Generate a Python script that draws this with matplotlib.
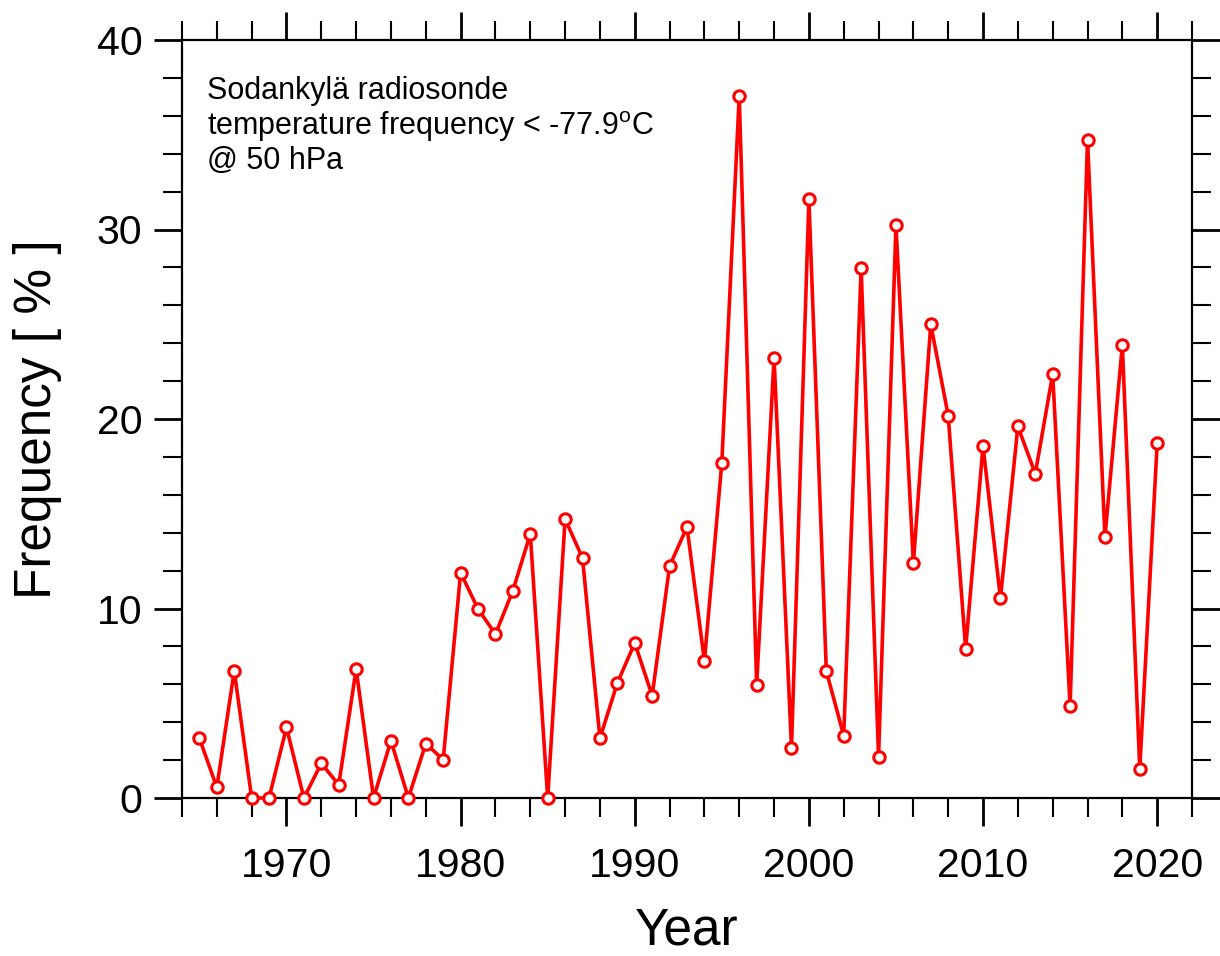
import matplotlib
matplotlib.use("Agg")
import matplotlib.pyplot as plt
from matplotlib.ticker import MultipleLocator

plt.rcParams["font.family"] = ["Liberation Sans", "DejaVu Sans"]
plt.rcParams["mathtext.fontset"] = "custom"
plt.rcParams["mathtext.rm"] = "Liberation Sans"

# Annual frequency of T < -77.9 C at 50 hPa, Sodankyla soundings
years = list(range(1965, 2021))
frequency = [
    3.15, 0.56, 6.72, 0.0, 0.0, 3.73, 0.0, 1.83, 0.69, 6.81,
    0.0, 3.02, 0.0, 2.87, 2.02, 11.89, 9.97, 8.65, 10.94, 13.93,
    0.0, 14.72, 12.66, 3.15, 6.07, 8.18, 5.40, 12.24, 14.30, 7.23,
    17.70, 37.07, 5.96, 23.23, 2.64, 31.60, 6.70, 3.29, 27.96, 2.18,
    30.22, 12.38, 25.00, 20.17, 7.87, 18.57, 10.54, 19.61, 17.11, 22.37,
    4.83, 34.74, 13.76, 23.90, 1.53, 18.71,
]

fig = plt.figure(figsize=(12.2, 9.56), dpi=100)
ax = fig.add_axes([182 / 1220, 1 - 798 / 956, 1010 / 1220, 758 / 956])

ax.plot(years, frequency, color="red", lw=2.6, marker="o", ms=8.2,
        mfc="white", mec="red", mew=2.2, clip_on=False, zorder=3)

ax.set_xlim(1964, 2022)
ax.set_ylim(0, 40)
ax.xaxis.set_major_locator(MultipleLocator(10))
ax.xaxis.set_minor_locator(MultipleLocator(2))
ax.yaxis.set_major_locator(MultipleLocator(10))
ax.yaxis.set_minor_locator(MultipleLocator(2))

for side in ax.spines.values():
    side.set_linewidth(1.6)

ax.tick_params(axis="both", which="both", direction="out",
               top=True, right=True, labelsize=29.5, color="black")
ax.tick_params(axis="both", which="major", length=20.5, width=2.0)
ax.tick_params(axis="both", which="minor", length=14, width=1.5)
ax.tick_params(axis="x", which="major", pad=15)
ax.tick_params(axis="y", which="major", pad=8)

ax.set_xlabel("Year", fontsize=37, labelpad=15)
ax.set_ylabel("Frequency [ % ]", fontsize=37, labelpad=25)

ax.text(0.0245, 0.952,
        "Sodankylä radiosonde\n"
        "temperature frequency < -77.9$^{\\mathrm{o}}$C\n"
        "@ 50 hPa",
        transform=ax.transAxes, ha="left", va="top", fontsize=22,
        linespacing=1.1)

fig.savefig("out.png", dpi=100)
